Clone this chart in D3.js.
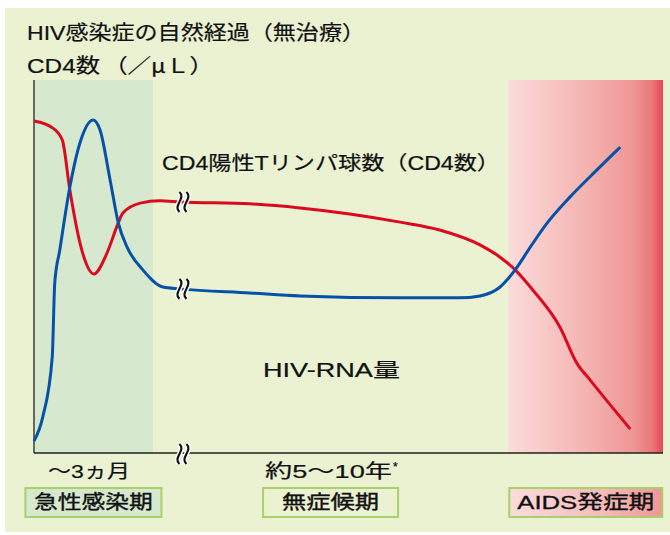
<!DOCTYPE html>
<html>
<head>
<meta charset="utf-8">
<script src="https://cdn.jsdelivr.net/npm/d3@7"></script>
<style>
  body { margin: 0; background: #fff; }
  svg { display: block; }
  text { font-family: "Liberation Sans", "Noto Sans CJK JP", sans-serif; font-weight: normal; fill: #111; stroke: #111; stroke-width: 0.2; }
</style>
</head>
<body>
<svg id="chart"></svg>
<script>
// time on x (0-100, arbitrary), level on y (0-100, arbitrary)
var cd4Time  = [0, 3.0, 4.5, 5.7, 7.6, 9.5, 11.6, 13.4, 14.1, 16.9, 20.0, 23.2, 34.3, 42.3, 50.2, 58.2, 64.5, 70.9, 74.1, 76.5, 79.3, 83.6, 86.3, 88.4, 94.8];
var cd4Level = [89.0, 87.1, 83.9, 70.5, 54.4, 48.0, 53.6, 61.7, 64.3, 67.0, 67.6, 67.3, 66.8, 65.7, 64.1, 61.9, 59.8, 55.8, 52.5, 49.1, 43.7, 33.8, 24.1, 19.6, 6.4];

var rnaTime  = [0, 1.4, 2.9, 3.3, 4.1, 5.7, 7.3, 9.4, 10.5, 12.1, 13.4, 14.8, 17.3, 20.5, 23.2, 34.3, 42.3, 58.2, 67.7, 70.9, 74.1, 76.5, 78.9, 81.6, 85.2, 89.5, 93.2];
var rnaLevel = [3.2, 9.7, 25.7, 45.6, 54.4, 71.3, 83.1, 89.3, 86.6, 73.2, 61.7, 55.2, 49.1, 44.5, 44.0, 42.9, 42.1, 41.6, 41.6, 42.1, 44.5, 49.1, 55.2, 61.7, 68.6, 75.9, 82.0];

var phaseNames = ["急性感染期", "無症候期", "AIDS発症期"];
var phaseStart = [0, 18.9, 75.4];
var phaseEnd   = [18.9, 75.4, 100];
var durationLabels = ["〜3ヵ月", "約5〜10年", ""];
var breakAt = 23.2;

var width = 670, height = 535;
var svg = d3.select("#chart").attr("width", width).attr("height", height);

var x = d3.scaleLinear().domain([0, 100]).range([34, 663]);
var y = d3.scaleLinear().domain([0, 100]).range([453, 80]);

var defs = svg.append("defs");
var grad = defs.append("linearGradient").attr("id", "aids").attr("x1", 0).attr("x2", 1).attr("y1", 0).attr("y2", 0);
[[0, "#fbdcdc"], [0.45, "#f5b8b5"], [0.8, "#ef9896"], [0.93, "#eb7779"], [1, "#e64756"]].forEach(function(s) {
  grad.append("stop").attr("offset", s[0]).attr("stop-color", s[1]);
});
var gradBox = defs.append("linearGradient").attr("id", "aidsBox").attr("x1", 0).attr("x2", 1);
[[0, "#fbdcdc"], [0.6, "#f6bcbb"], [1, "#ef9795"]].forEach(function(s) {
  gradBox.append("stop").attr("offset", s[0]).attr("stop-color", s[1]);
});

// panel
svg.append("rect").attr("x", 5).attr("y", 8).attr("width", 665).attr("height", 524).attr("fill", "#ebf2d2");

// phase backgrounds
svg.append("rect")
   .attr("x", x(phaseStart[0])).attr("y", y(100))
   .attr("width", x(phaseEnd[0]) - x(phaseStart[0])).attr("height", y(0) - y(100))
   .attr("fill", "#d6e9cf");
svg.append("rect")
   .attr("x", x(phaseStart[2])).attr("y", y(100))
   .attr("width", x(phaseEnd[2]) - x(phaseStart[2])).attr("height", y(0) - y(100))
   .attr("fill", "url(#aids)");

// axes
svg.append("line").attr("x1", x(0)).attr("x2", x(0)).attr("y1", y(100)).attr("y2", y(0))
   .attr("stroke", "#222").attr("stroke-width", 1.3);
svg.append("line").attr("x1", x(0)).attr("x2", x(100)).attr("y1", y(0)).attr("y2", y(0))
   .attr("stroke", "#222").attr("stroke-width", 1.3);

// curves
var line = d3.line()
   .x(function(d) { return x(d[0]); })
   .y(function(d) { return y(d[1]); })
   .curve(d3.curveMonotoneX);

var cd4 = d3.zip(cd4Time, cd4Level);
var rna = d3.zip(rnaTime, rnaLevel);

svg.append("path").attr("d", line(cd4)).attr("fill", "none")
   .attr("stroke", "#dc0a1e").attr("stroke-width", 3);
svg.append("path").attr("d", line(rna)).attr("fill", "none")
   .attr("stroke", "#0652a8").attr("stroke-width", 3);

// break marks
function breakMark(cx, cy) {
  var g = svg.append("g");
  ["#fff", "#111"].forEach(function(col, k) {
    [-3.5, 3.5].forEach(function(dx) {
      var x0 = cx + dx;
      var d = "M" + x0 + "," + (cy - 10) + " C" + (x0 + 7) + "," + (cy - 4) + " " + (x0 - 7) + "," + (cy + 4) + " " + x0 + "," + (cy + 10);
      g.append("path").attr("d", d).attr("fill", "none").attr("stroke", col).attr("stroke-width", k ? 2.2 : 5);
    });
  });
}
var bx = x(breakAt) + 3;
breakMark(bx, y(cd4Level[cd4Time.indexOf(breakAt)]));
breakMark(bx, y(rnaLevel[rnaTime.indexOf(breakAt)]));
breakMark(bx, y(0) + 1);

function label(tx, ty, size, str, len, adj) {
  var t = svg.append("text").attr("x", tx).attr("y", ty).attr("font-size", size).text(str);
  if (len) t.attr("textLength", len).attr("lengthAdjust", adj || "spacingAndGlyphs");
  return t;
}

// titles
label(27, 40, 20, "HIV感染症の自然経過（無治療）", 338);
label(27, 73, 20, "CD4数", 73);
label(104, 73, 20, "（／μＬ）", 109).style("font-family", "'Noto Sans CJK JP', sans-serif");

label(162, 170, 19.5, "CD4陽性Tリンパ球数（CD4数）", 338);
label(263, 377, 19.5, "HIV-RNA量", 137);

// duration labels
label(48, 478, 19, durationLabels[0], 82);
label(265, 478, 19, durationLabels[1], 127);
label(393, 471, 12, "*");

// phase boxes
var boxW = [136, 135, 153];
var textW = [119, 97, 137];
var boxFill = ["#d6e9cf", "#ebf2d2", "url(#aidsBox)"];
phaseNames.forEach(function(name, i) {
  var cx = (x(phaseStart[i]) + x(phaseEnd[i])) / 2;
  if (i == 2) cx = x(phaseStart[i]) + boxW[i] / 2 + 1;
  svg.append("rect")
     .attr("x", cx - boxW[i] / 2).attr("y", 488)
     .attr("width", boxW[i]).attr("height", 29)
     .attr("fill", boxFill[i]).attr("stroke", "#a9d06b").attr("stroke-width", 2);
  label(cx - textW[i] / 2, 509, 19, name, textW[i]).style("stroke-width", 0.35);
});
</script>
</body>
</html>
